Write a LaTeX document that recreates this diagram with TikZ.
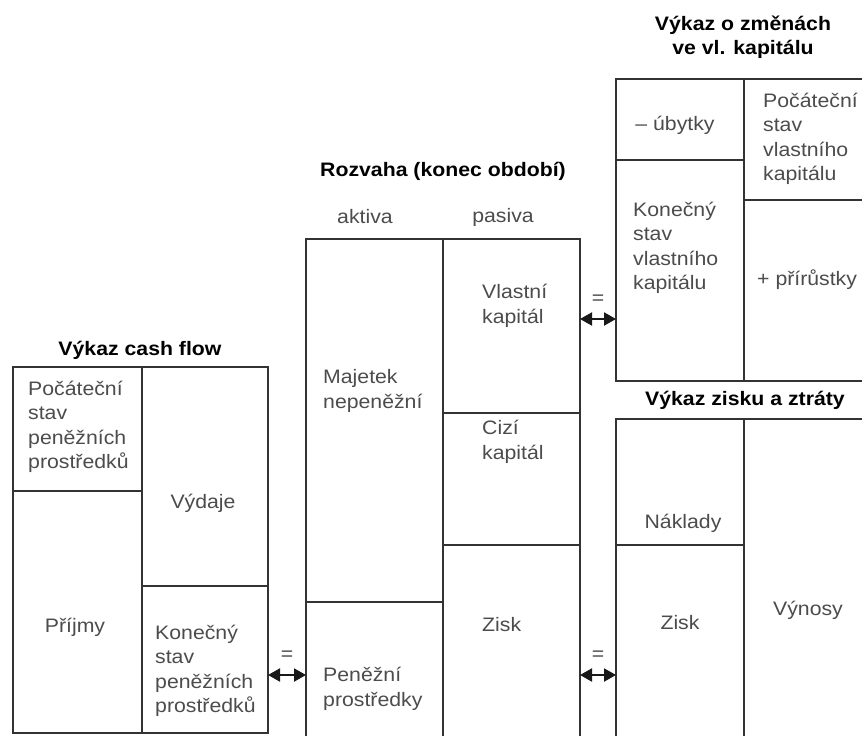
\documentclass[tikz,border=0pt]{standalone}
\usepackage{fontspec}
\setmainfont[FakeStretch=1.09]{Liberation Sans}
\usetikzlibrary{arrows.meta}

\begin{document}
\begin{tikzpicture}[x=1pt, y=-1pt,
        bunka/.style={draw=black!80, line width=1.2pt, anchor=north west, inner sep=0pt, outer sep=0pt},
        popis/.style={text=black!70, font=\fontsize{19.5}{24.5}\selectfont, inner sep=0pt, align=left},
        nadpis/.style={font=\fontsize{19.5}{23.5}\selectfont\bfseries, inner sep=0pt, align=center},
        rovnase/.style={popis, midway, yshift=19pt},
        sipka/.style={{Triangle[length=12pt,width=13pt]}-{Triangle[length=12pt,width=13pt]}, line width=2pt, black!90}]
        \useasboundingbox (0,0) rectangle (862,736);
        \clip (0,0) rectangle (862,736);
        \fill[white] (0,0) rectangle (862,736);
        % vykaz cash flow
        \node[bunka, minimum width=129, minimum height=124] (cf1) at (13,367) {};
        \node[bunka, minimum width=129, minimum height=242] (cf2) at (13,491) {};
        \node[bunka, minimum width=126, minimum height=219] (cf3) at (142,367) {};
        \node[bunka, minimum width=126, minimum height=147] (cf4) at (142,586) {};
        % rozvaha
        \node[bunka, minimum width=137, minimum height=363] (rz1) at (306,239) {};
        \node[bunka, minimum width=137, minimum height=150] (rz2) at (306,602) {};
        \node[bunka, minimum width=137, minimum height=174] (rz3) at (443,239) {};
        \node[bunka, minimum width=137, minimum height=132] (rz4) at (443,413) {};
        \node[bunka, minimum width=137, minimum height=207] (rz5) at (443,545) {};
        % vykaz o zmenach ve vl. kapitalu
        \node[bunka, minimum width=128, minimum height=81]  (vk1) at (616,79) {};
        \node[bunka, minimum width=128, minimum height=221] (vk2) at (616,160) {};
        \node[bunka, minimum width=150, minimum height=121] (vk3) at (744,79) {};
        \node[bunka, minimum width=150, minimum height=181] (vk4) at (744,200) {};
        % vykaz zisku a ztraty
        \node[bunka, minimum width=128, minimum height=126] (vz1) at (616,419) {};
        \node[bunka, minimum width=128, minimum height=210] (vz2) at (616,545) {};
        \node[bunka, minimum width=150, minimum height=336] (vz3) at (744,419) {};
        % nadpisy
        \node[nadpis] (tcf) at (140,350) {Výkaz cash flow};
        \node[nadpis] (trz) at (443,171) {Rozvaha (konec období)};
        \node[nadpis] (tvk) at (743,37)  {Výkaz o změnách\\ ve vl. kapitálu};
        \node[nadpis] (tvz) at (745,400) {Výkaz zisku a ztráty};
        \node[popis] (akt) at (365,217) {aktiva};
        \node[popis] (pas) at (503,217) {pasiva};
        % texty v bunkach
        \node[popis, anchor=west] (cf1t) at (28,427)  {Počáteční\\ stav\\ peněžních\\ prostředků};
        \node[popis]              (cf2t) at (75,627)  {Příjmy};
        \node[popis]              (cf3t) at (203,503) {Výdaje};
        \node[popis, anchor=west] (cf4t) at (155,671) {Konečný\\ stav\\ peněžních\\ prostředků};
        \node[popis, anchor=west] (rz1t) at (323,391) {Majetek\\ nepeněžní};
        \node[popis, anchor=west] (rz2t) at (323,689) {Peněžní\\ prostředky};
        \node[popis, anchor=west] (rz3t) at (482,306) {Vlastní\\ kapitál};
        \node[popis, anchor=west] (rz4t) at (482,442) {Cizí\\ kapitál};
        \node[popis, anchor=west] (rz5t) at (482,625) {Zisk};
        \node[popis]              (vk1t) at (675,125) {– úbytky};
        \node[popis, anchor=west] (vk2t) at (633,248) {Konečný\\ stav\\ vlastního\\ kapitálu};
        \node[popis, anchor=west] (vk3t) at (763,139) {Počáteční\\ stav\\ vlastního\\ kapitálu};
        \node[popis, anchor=west] (vk4t) at (757,280) {+ přírůstky};
        \node[popis]              (vz1t) at (683,523) {Náklady};
        \node[popis]              (vz2t) at (680,623) {Zisk};
        \node[popis]              (vz3t) at (808,610) {Výnosy};
        % vazby
        \coordinate (v1) at (0,319);
        \coordinate (v2) at (0,675);
        \draw[sipka] (cf4.east |- v2) -- node[rovnase] (r1) {=} (rz2.west |- v2);
        \draw[sipka] (rz3.east |- v1) -- node[rovnase] (r2) {=} (vk2.west |- v1);
        \draw[sipka] (rz5.east |- v2) -- node[rovnase] (r3) {=} (vz2.west |- v2);
    \end{tikzpicture}
\end{document}
